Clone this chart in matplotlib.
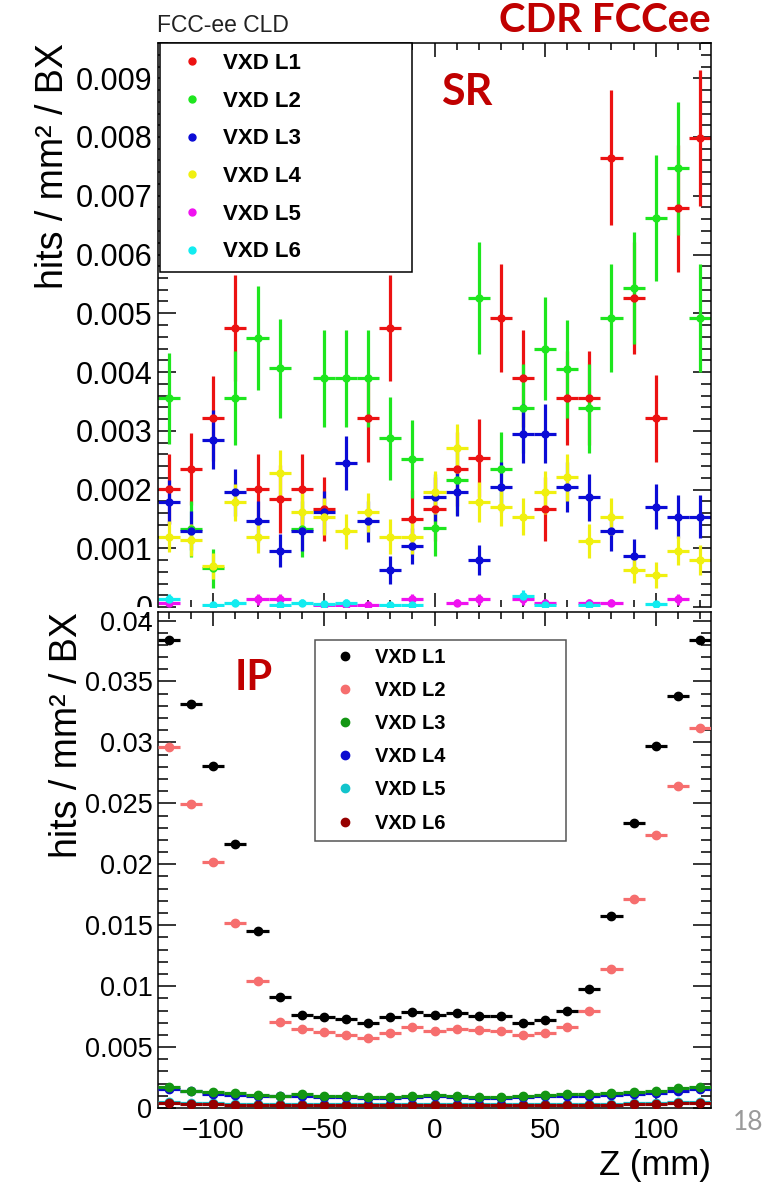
import numpy as np
import matplotlib
matplotlib.use('Agg')
import matplotlib.pyplot as plt
from matplotlib.ticker import MultipleLocator, FuncFormatter
from matplotlib.lines import Line2D
from matplotlib.patches import Rectangle

plt.rcParams['font.family'] = ['Liberation Sans', 'DejaVu Sans']

# bin centres along the beam axis (mm), bin width 10 mm
z = np.arange(-120, 121, 10)
half_bin = 5

layers = ['VXD L1', 'VXD L2', 'VXD L3', 'VXD L4', 'VXD L5', 'VXD L6']

# synchrotron radiation background, hits / mm^2 / BX (x 1e-3)
nan = np.nan
sr_l1 = np.array([2.01, 2.35, 3.21, 4.75, 2.01, 1.84, 2.01, 1.67, nan, 3.21, 4.75, 1.50, 1.67,
                  2.35, 2.54, 4.92, 3.89, 1.67, 3.55, 3.55, 7.65, 5.26, 3.21, 6.79, 7.98]) * 1e-3
sr_l1_err = np.array([0.60, 0.62, 0.73, 0.90, 0.60, 0.58, 0.60, 0.55, nan, 0.75, 0.90, 0.50, 0.55,
                      0.63, 0.66, 0.92, 0.83, 0.55, 0.80, 0.80, 1.15, 0.95, 0.74, 1.08, 1.16]) * 1e-3
sr_l2 = np.array([3.55, 1.33, 0.66, 3.55, 4.58, 4.06, 1.33, 3.89, 3.89, 3.89, 2.87, 2.52, 1.34,
                  2.17, 5.26, 2.35, 3.38, 4.40, 4.05, 3.38, 4.92, 5.43, 6.62, 7.47, 4.92]) * 1e-3
sr_l2_err = np.array([0.78, 0.48, 0.33, 0.80, 0.88, 0.84, 0.48, 0.82, 0.82, 0.82, 0.70, 0.66, 0.48,
                      0.60, 0.95, 0.63, 0.76, 0.87, 0.84, 0.76, 0.92, 0.96, 1.07, 1.13, 0.92]) * 1e-3
sr_l3 = np.array([1.79, 1.30, 2.85, 1.95, 1.46, 0.96, 1.29, 1.61, 2.45, 1.46, 0.63, 1.04, 1.87,
                  1.95, 0.80, 2.04, 2.95, 2.95, 2.04, 1.87, 1.29, 0.87, 1.71, 1.54, 1.54]) * 1e-3
sr_l3_err = np.array([0.37, 0.33, 0.50, 0.40, 0.35, 0.28, 0.33, 0.37, 0.46, 0.35, 0.24, 0.30, 0.40,
                      0.40, 0.26, 0.42, 0.50, 0.50, 0.42, 0.40, 0.33, 0.28, 0.38, 0.37, 0.37]) * 1e-3
sr_l4 = np.array([1.20, 1.14, 0.70, 1.78, 1.20, 2.28, 1.61, 1.54, 1.29, 1.61, 1.20, 1.20, 1.95,
                  2.70, 1.78, 1.70, 1.54, 1.95, 2.21, 1.13, 1.54, 0.63, 0.55, 0.96, 0.80]) * 1e-3
sr_l4_err = np.array([0.26, 0.27, 0.22, 0.32, 0.28, 0.40, 0.33, 0.32, 0.30, 0.33, 0.29, 0.29, 0.36,
                      0.42, 0.34, 0.32, 0.32, 0.36, 0.40, 0.29, 0.32, 0.22, 0.22, 0.25, 0.25]) * 1e-3
sr_l5 = np.array([0.07, nan, nan, nan, 0.13, 0.13, nan, 0.03, 0.03, 0.03, nan, 0.13, nan,
                  0.07, 0.13, nan, 0.13, 0.07, nan, 0.07, 0.07, nan, nan, 0.13, nan]) * 1e-3
sr_l5_err = np.array([0.07, nan, nan, nan, 0.09, 0.09, nan, 0.05, 0.05, 0.05, nan, 0.09, nan,
                      0.07, 0.09, nan, 0.09, 0.07, nan, 0.07, 0.07, nan, nan, 0.09, nan]) * 1e-3
sr_l6 = np.array([0.13, nan, 0.03, 0.07, nan, 0.03, 0.07, 0.05, 0.07, nan, 0.03, 0.03, nan,
                  nan, nan, nan, 0.19, 0.03, nan, 0.03, nan, nan, 0.05, nan, nan]) * 1e-3
sr_l6_err = np.array([0.09, nan, 0.05, 0.07, nan, 0.05, 0.07, 0.06, 0.07, nan, 0.05, 0.05, nan,
                      nan, nan, nan, 0.10, 0.05, nan, 0.05, nan, nan, 0.06, nan, nan]) * 1e-3

# incoherent pair background from the IP, hits / mm^2 / BX (x 1e-3)
ip_l1 = np.array([38.44, 33.17, 28.06, 21.64, 14.54, 9.13, 7.62, 7.43, 7.27, 6.94, 7.49, 7.84, 7.62,
                  7.76, 7.57, 7.57, 6.99, 7.21, 7.95, 9.73, 15.74, 23.39, 29.70, 33.80, 38.44]) * 1e-3
ip_l2 = np.array([29.62, 24.97, 20.19, 15.22, 10.41, 7.08, 6.48, 6.26, 5.96, 5.77, 6.17, 6.67, 6.34,
                  6.48, 6.39, 6.31, 5.98, 6.17, 6.67, 7.95, 11.39, 17.13, 22.43, 26.45, 31.20]) * 1e-3
ip_l3 = np.array([1.72, 1.42, 1.30, 1.20, 1.07, 1.02, 1.12, 1.00, 0.95, 0.93, 0.93, 0.95, 1.07,
                  0.95, 0.92, 0.87, 0.98, 1.07, 1.12, 1.15, 1.26, 1.34, 1.42, 1.61, 1.75]) * 1e-3
ip_l4 = np.array([1.52, 1.36, 1.14, 1.08, 1.00, 0.95, 0.98, 0.92, 0.88, 0.86, 0.86, 0.88, 0.95,
                  0.88, 0.85, 0.82, 0.88, 0.95, 1.00, 1.02, 1.10, 1.18, 1.26, 1.42, 1.55]) * 1e-3
ip_l5 = np.array([0.50, 0.42, 0.38, 0.35, 0.33, 0.32, 0.32, 0.31, 0.31, 0.30, 0.30, 0.31, 0.31,
                  0.31, 0.30, 0.30, 0.31, 0.31, 0.32, 0.33, 0.35, 0.38, 0.42, 0.46, 0.52]) * 1e-3
ip_l6 = np.array([0.37, 0.33, 0.30, 0.28, 0.27, 0.27, 0.27, 0.26, 0.26, 0.26, 0.26, 0.26, 0.26,
                  0.26, 0.26, 0.26, 0.26, 0.26, 0.27, 0.27, 0.28, 0.30, 0.33, 0.38, 0.42]) * 1e-3

sr_colors = ['#ec1212', '#1ee61e', '#0b0bd6', '#f0f010', '#f012f0', '#12ecf0']
ip_colors = ['#000000', '#f66e6e', '#139613', '#0b0bd0', '#12c4cc', '#960000']
ip_zorder = [8, 7, 6, 5, 3, 4]

W, H = 776, 1186


def px_box(x0, y0, x1, y1):
    return [x0 / W, 1 - y1 / H, (x1 - x0) / W, (y1 - y0) / H]


def style_axes(ax, ymax, ymajor, yminor, ysize):
    ax.set_xlim(-125, 125)
    ax.set_ylim(0, ymax)
    ax.xaxis.set_major_locator(MultipleLocator(50))
    ax.xaxis.set_minor_locator(MultipleLocator(10))
    ax.yaxis.set_major_locator(MultipleLocator(ymajor))
    ax.yaxis.set_minor_locator(MultipleLocator(yminor))
    ax.yaxis.set_major_formatter(FuncFormatter(lambda v, p: '%g' % round(v, 6)))
    ax.tick_params(which='both', direction='in', top=True, right=True, width=1.1)
    ax.tick_params(axis='y', which='major', length=13, labelsize=ysize, pad=4)
    ax.tick_params(axis='y', which='minor', length=7)
    ax.tick_params(axis='x', which='major', length=10, labelsize=20, pad=7)
    ax.tick_params(axis='x', which='minor', length=5)
    for s in ax.spines.values():
        s.set_linewidth(1.1)


fig = plt.figure(figsize=(W / 100, H / 100), dpi=100)
ax_sr = fig.add_axes(px_box(158, 43, 711, 607))
ax_ip = fig.add_axes(px_box(158, 612, 711, 1108))
ax_ip.set_zorder(2)

# --- SR panel ---
style_axes(ax_sr, 0.0096, 0.001, 0.0002, 22)
ax_sr.spines['bottom'].set_visible(False)
ax_sr.tick_params(labelbottom=False)
sr_vals = [sr_l1, sr_l2, sr_l3, sr_l4, sr_l5, sr_l6]
sr_errs = [sr_l1_err, sr_l2_err, sr_l3_err, sr_l4_err, sr_l5_err, sr_l6_err]
for vals, errs, c in zip(sr_vals, sr_errs, sr_colors):
    ax_sr.errorbar(z, vals, xerr=half_bin, yerr=errs, fmt='o', color=c, ms=5,
                   lw=2.3, capsize=0)

handles = [Line2D([], [], ls='none', marker='o', color=c, ms=5) for c in sr_colors]
leg = ax_sr.legend(handles, layers, loc='upper left', bbox_to_anchor=(0.0036, 0, 0.456, 1.0),
                   mode='expand', borderaxespad=0, prop={'weight': 'bold', 'size': 16},
                   labelspacing=0.75, borderpad=0.45, handlelength=2.0, handletextpad=0.4,
                   fancybox=False, framealpha=1, edgecolor='black')
leg.get_frame().set_linewidth(1.1)

ax_sr.set_ylabel('hits / mm² / BX', fontsize=27, loc='top')
ax_sr.yaxis.set_label_coords(-0.157, 1.0)
ax_sr.text(0.512, 0.913, 'SR', transform=ax_sr.transAxes, ha='left', va='center',
           fontsize=31, fontweight='bold', family='Lato', color='#c00000')

# --- IP panel ---
style_axes(ax_ip, 0.0407, 0.005, 0.001, 19.5)
ip_vals = [ip_l1, ip_l2, ip_l3, ip_l4, ip_l5, ip_l6]
for vals, c, zo in zip(ip_vals, ip_colors, ip_zorder):
    ax_ip.errorbar(z, vals, xerr=half_bin, fmt='o', color=c, ms=6, lw=2.3, capsize=0,
                   zorder=zo)

handles = [Line2D([], [], ls='none', marker='o', color=c, ms=6) for c in ip_colors]
leg = ax_ip.legend(handles, layers, loc='upper left', bbox_to_anchor=(0.2839, 0, 0.4539, 0.9435),
                   mode='expand', borderaxespad=0, prop={'weight': 'bold', 'size': 14.5},
                   labelspacing=0.7, borderpad=0.4, handlelength=2.2, handletextpad=0.4,
                   fancybox=False, framealpha=1, edgecolor='#555555')
leg.get_frame().set_linewidth(1.1)
leg.set_zorder(10)

ax_ip.set_ylabel('hits / mm² / BX', fontsize=27, loc='top')
ax_ip.yaxis.set_label_coords(-0.132, 1.0)
ax_ip.set_xlabel('Z (mm)', fontsize=25, loc='right')
ax_ip.xaxis.set_label_coords(1.0, -0.083)
ax_ip.text(0.139, 0.867, 'IP', transform=ax_ip.transAxes, ha='left', va='center',
           fontsize=30, fontweight='bold', family='Lato', color='#c00000')

# the lower panel sits over the bottom edge of the upper one
fig.add_artist(Rectangle((0, 1 - 616 / H), 157 / W, 9 / H, transform=fig.transFigure,
                         facecolor='white', edgecolor='none', zorder=1))

fig.text(157 / W, 1 - 25 / H, 'FCC-ee CLD', fontsize=16.5, ha='left', va='center',
         color='#222222')
fig.text(711 / W, 1 - 21 / H, 'CDR FCCee', fontsize=29, fontweight='bold', family='Lato',
         color='#c00000', ha='right', va='center')
fig.text(733 / W, 1 - 1122 / H, '18', fontsize=19, family='Lato', color='#9a9a9a',
         ha='left', va='center')

fig.savefig('out.png', dpi=100)
